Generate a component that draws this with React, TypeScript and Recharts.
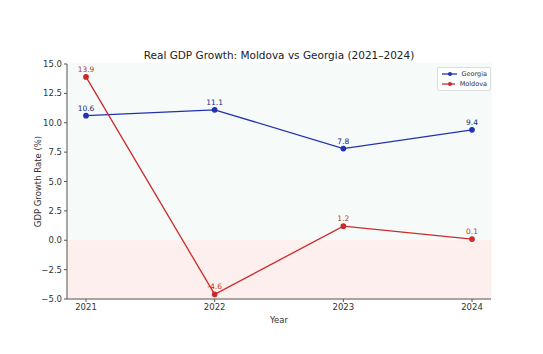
import React from "react";
import {
  LineChart,
  Line,
  XAxis,
  YAxis,
  CartesianGrid,
  ReferenceArea,
  LabelList,
} from "recharts";

const years = [2021, 2022, 2023, 2024];
const georgia = [10.6, 11.1, 7.8, 9.4];
const moldova = [13.9, -4.6, 1.2, 0.1];
const yTicks = [-5, -2.5, 0, 2.5, 5, 7.5, 10, 12.5, 15];

const BLUE = "#2231b0";
const RED = "#cc2a2a";
const FONT = "DejaVu Sans, sans-serif";

const data = years.map((y, i) => ({ year: y, Georgia: georgia[i], Moldova: moldova[i] }));

const fmt = (v: number) => (v < 0 ? "\u2212" + Math.abs(v).toFixed(1) : v.toFixed(1));

function LegendBox() {
  const row = (name: string, color: string) => (
    <div style={{ display: "flex", alignItems: "center", height: 10 }}>
      <svg width={18} height={8}>
        <line x1={1} y1={4} x2={17} y2={4} stroke={color} strokeWidth={1.3} />
        <circle cx={9} cy={4} r={2} fill={color} />
      </svg>
      <span style={{ marginLeft: 5, fontSize: 6.5, color: "#333" }}>{name}</span>
    </div>
  );
  return (
    <div
      style={{
        position: "absolute",
        top: 67,
        left: 437,
        width: 46,
        border: "1px solid #ddd",
        borderRadius: 2,
        background: "rgba(255,255,255,0.85)",
        padding: "1px 3px 1px 3px",
        fontFamily: FONT,
      }}
    >
      {row("Georgia", BLUE)}
      {row("Moldova", RED)}
    </div>
  );
}

export default function App() {
  return (
    <div style={{ position: "fixed", left: 0, top: 0, width: 543, height: 354, background: "#fff", fontFamily: FONT }}>
      <div
        style={{
          position: "absolute",
          top: 49,
          left: 67,
          width: 424,
          textAlign: "center",
          fontSize: 10.5,
          color: "#222",
        }}
      >
        Real GDP Growth: Moldova vs Georgia (2021–2024)
      </div>
      <LineChart width={543} height={354} data={data} margin={{ top: 64, right: 52, bottom: 25, left: 0 }}>
        <ReferenceArea y1={0} y2={15} fill="#f6fbfa" fillOpacity={1} stroke="none" ifOverflow="hidden" />
        <ReferenceArea y1={-5} y2={0} fill="#fdefed" fillOpacity={1} stroke="none" ifOverflow="hidden" />
        <CartesianGrid stroke="#ebebeb" strokeWidth={0.6} />
        <XAxis
          dataKey="year"
          type="number"
          domain={[2020.8524, 2024.1476]}
          ticks={years}
          allowDataOverflow
          height={30}
          tick={{ fontSize: 8.5, fill: "#333", fontFamily: FONT }}
          tickSize={3}
          tickLine={{ stroke: "#555" }}
          axisLine={{ stroke: "#555" }}
          label={{ value: "Year", position: "insideBottom", offset: 6, fontSize: 8.5, fill: "#333", fontFamily: FONT }}
        />
        <YAxis
          domain={[-5, 15]}
          ticks={yTicks}
          width={67}
          tickFormatter={fmt}
          tick={{ fontSize: 8.5, fill: "#333", fontFamily: FONT }}
          tickSize={3}
          tickLine={{ stroke: "#555" }}
          axisLine={{ stroke: "#555" }}
          allowDataOverflow
          label={{
            value: "GDP Growth Rate (%)",
            angle: -90,
            position: "insideLeft",
            offset: 38,
            style: { textAnchor: "middle", fontSize: 8.5, fill: "#333", fontFamily: FONT },
          }}
        />
        <Line
          type="linear"
          dataKey="Georgia"
          stroke={BLUE}
          strokeWidth={1.3}
          dot={{ r: 2.2, fill: BLUE, stroke: BLUE }}
          isAnimationActive={false}
        >
          <LabelList dataKey="Georgia" position="top" offset={5} fontSize={7.5} fill="#1a237e" fontFamily={FONT} />
        </Line>
        <Line
          type="linear"
          dataKey="Moldova"
          stroke={RED}
          strokeWidth={1.3}
          dot={{ r: 2.2, fill: RED, stroke: RED }}
          isAnimationActive={false}
        >
          <LabelList dataKey="Moldova" position="top" offset={5} fontSize={7.5} fill="#b33a2a" fontFamily={FONT} />
        </Line>
      </LineChart>
      <LegendBox />
    </div>
  );
}
